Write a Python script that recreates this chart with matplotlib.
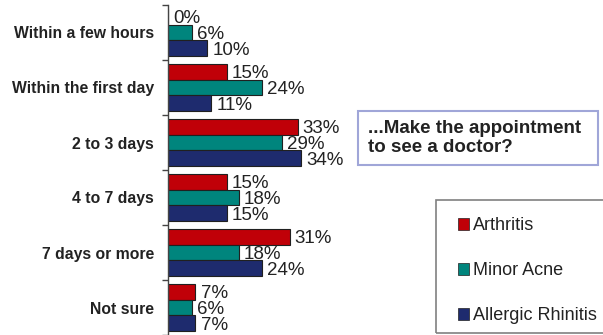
import matplotlib
matplotlib.use("Agg")
import matplotlib.pyplot as plt
from matplotlib.patches import Rectangle, Patch
import numpy as np

plt.rcParams['font.family'] = ['Liberation Sans', 'DejaVu Sans']

categories = ["Within a few hours", "Within the first day", "2 to 3 days",
              "4 to 7 days", "7 days or more", "Not sure"]
arthritis = [0, 15, 33, 15, 31, 7]
minor_acne = [6, 24, 29, 18, 18, 6]
allergic_rhinitis = [10, 11, 34, 15, 24, 7]
series_names = ["Arthritis", "Minor Acne", "Allergic Rhinitis"]
colors = ["#C00008", "#00857D", "#1E2B6E"]

W, H = 603, 335
fig = plt.figure(figsize=(W / 100, H / 100), dpi=100)
ax = fig.add_axes([168 / W, 0, 157 / W, 330 / H])

y = np.arange(len(categories))
bh = 0.29
series = [arthritis, minor_acne, allergic_rhinitis]
for k, (vals, col) in enumerate(zip(series, colors)):
    pos = y + (k - 1) * bh
    ax.barh(pos, vals, height=bh, color=col, edgecolor="#202020", linewidth=0.8,
            label=series_names[k])
    for p, v in zip(pos, vals):
        ax.text(v + 1.3, p + 0.04, f"{v}%", va="center", ha="left", fontsize=13.5,
                color="#222222", clip_on=False)

ax.set_xlim(0, 40)
ax.set_ylim(len(categories) - 0.5, -0.5)
ax.set_yticks(y)
ax.set_yticklabels(categories, fontweight="bold", fontsize=11.3, color="#222222")
ax.tick_params(axis="y", which="major", length=0, pad=10)
ax.set_yticks(np.arange(len(categories) + 1) - 0.5, minor=True)
ax.tick_params(axis="y", which="minor", length=4, width=1, color="#444444")
ax.set_xticks([])
for s in ["top", "right", "bottom"]:
    ax.spines[s].set_visible(False)
ax.spines["left"].set_color("#444444")
ax.spines["left"].set_linewidth(1)

# question box
fig.patches.append(Rectangle((358 / W, 1 - 165 / H), 240 / W, 54 / H,
                             transform=fig.transFigure, fill=False,
                             edgecolor="#A0A6D8", linewidth=1.5))
fig.text(368 / W, 1 - 138 / H, "...Make the appointment\nto see a doctor?",
         fontsize=13.5, fontweight="bold", color="#222222", va="center", ha="left",
         linespacing=1.1)

# legend
fig.patches.append(Rectangle((436 / W, 1 - 333 / H), 180 / W, 133 / H,
                             transform=fig.transFigure, fill=False,
                             edgecolor="#808080", linewidth=1.2))
handles = [Patch(facecolor=c, edgecolor="#202020", linewidth=0.5) for c in colors]
fig.legend(handles, series_names, loc="upper left",
           bbox_to_anchor=(444 / W, 1 - 203 / H), frameon=False, fontsize=13,
           handlelength=0.6, handleheight=0.6, handletextpad=0.2,
           labelspacing=1.55, borderpad=0.3, labelcolor="#222222")

fig.savefig("out.png", dpi=100)
